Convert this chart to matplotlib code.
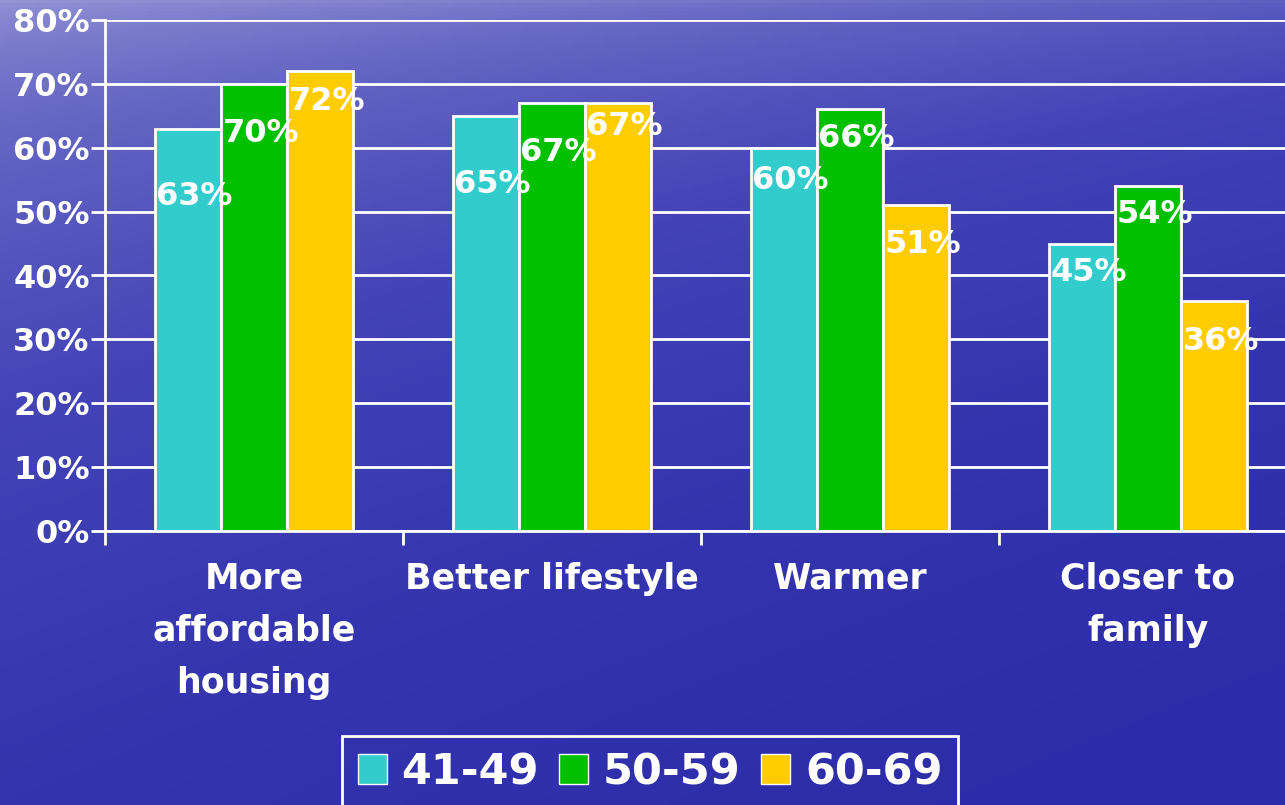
import numpy as np
import matplotlib.pyplot as plt
from matplotlib.colors import LinearSegmentedColormap

categories = ['More\naffordable\nhousing', 'Better lifestyle', 'Warmer', 'Closer to\nfamily']
groups = ['41-49', '50-59', '60-69']
v_41_49 = [63, 65, 60, 45]
v_50_59 = [70, 67, 66, 54]
v_60_69 = [72, 67, 51, 36]
values = [v_41_49, v_50_59, v_60_69]
yticks = [0, 10, 20, 30, 40, 50, 60, 70, 80]

colors = ['#33CCCC', '#00C000', '#FFCC00']
# how far below each bar top the value label sits (in % units)
label_drop = [[10.6, 10.7, 5.1, 4.5],
              [7.7, 7.7, 4.5, 4.5],
              [4.7, 3.6, 6.2, 6.3]]

fig = plt.figure(figsize=(12.85, 8.05), dpi=100)

# background: blue sea-like gradient, lighter towards the upper left
bg = fig.add_axes([0, 0, 1, 1])
yy, xx = np.mgrid[0:1:200j, 0:1:300j]
t = np.clip(0.75 * yy ** 0.6 + 0.3 * xx, 0, 1)
cmap = LinearSegmentedColormap.from_list('sea', ['#9494d6', '#6666c4', '#4444b8', '#3434ae', '#2c2caa'])
bg.imshow(t, cmap=cmap, aspect='auto', extent=[0, 1, 0, 1], origin='upper')
bg.axis('off')

ax = fig.add_axes([105 / 1285, 274 / 805, 1180 / 1285, 511 / 805])
ax.patch.set_alpha(0)

w = 0.2215
x = np.arange(len(categories))
for i, (vals, c) in enumerate(zip(values, colors)):
    pos = x + (i - 1) * w
    ax.bar(pos, vals, w, color=c, edgecolor='white', linewidth=2, label=groups[i], zorder=3)
    for j, v in enumerate(vals):
        ax.text(pos[j] - w / 2 + 0.005, v - label_drop[i][j], f'{v}%', color='white',
                fontsize=23, fontweight='bold', ha='left', va='center', zorder=4)

ax.set_xlim(-0.5, 3.46)
ax.set_ylim(0, 80)
ax.set_yticks(yticks)
ax.set_yticklabels([f'{t}%' for t in yticks])
ax.yaxis.grid(True, color='white', linewidth=2, zorder=0)
ax.set_axisbelow(True)

ax.set_xticks(x)
ax.set_xticklabels(categories, linespacing=1.68)
ax.set_xticks(np.arange(len(categories)) - 0.5, minor=True)
ax.tick_params(axis='x', which='major', length=0, pad=22, labelsize=25, labelcolor='white')
ax.tick_params(axis='x', which='minor', length=10, width=2, color='white')
ax.tick_params(axis='y', length=10, width=2, color='white', pad=1, labelsize=23, labelcolor='white')
for lab in ax.get_xticklabels() + ax.get_yticklabels():
    lab.set_fontweight('bold')

for s in ['top', 'right']:
    ax.spines[s].set_visible(False)
for s in ['left', 'bottom']:
    ax.spines[s].set_color('white')
    ax.spines[s].set_linewidth(2)

leg = fig.legend(loc='lower center', bbox_to_anchor=(650 / 1285, -0.004), ncol=3,
                 frameon=True, fancybox=False, edgecolor='white', facecolor='none', framealpha=1,
                 prop={'weight': 'bold', 'size': 31},
                 handlelength=0.68, handleheight=0.7, handletextpad=0.34, columnspacing=0.47,
                 borderpad=0.35, borderaxespad=0, labelcolor='white')
leg.get_frame().set_linewidth(2)
leg.get_frame().set_facecolor('none')
for h in leg.legend_handles:
    h.set_edgecolor('white')
    h.set_linewidth(1)

fig.savefig('out.png', dpi=100)
